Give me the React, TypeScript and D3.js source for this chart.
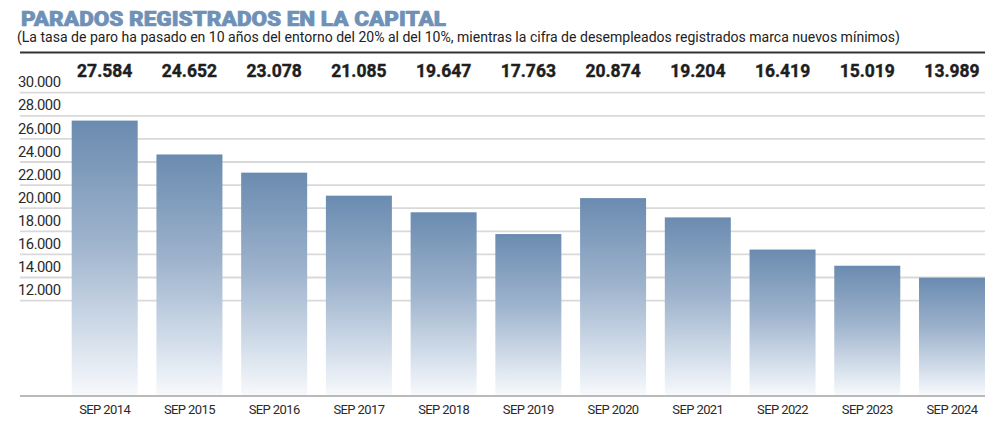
import React from "react";
import * as d3 from "d3";

const categories = ["SEP 2014","SEP 2015","SEP 2016","SEP 2017","SEP 2018","SEP 2019","SEP 2020","SEP 2021","SEP 2022","SEP 2023","SEP 2024"];
const values = [27584, 24652, 23078, 21085, 19647, 17763, 20874, 19204, 16419, 15019, 13989];
const valueLabels = ["27.584","24.652","23.078","21.085","19.647","17.763","20.874","19.204","16.419","15.019","13.989"];
const yTicks = [30000, 28000, 26000, 24000, 22000, 20000, 18000, 16000, 14000, 12000];
const yTickLabels = ["30.000","28.000","26.000","24.000","22.000","20.000","18.000","16.000","14.000","12.000"];
const title = "PARADOS REGISTRADOS EN LA CAPITAL";
const subtitle = "(La tasa de paro ha pasado en 10 años del entorno del 20% al del 10%, mientras la cifra de desempleados registrados marca nuevos mínimos)";

export default function App() {
  const W = 1000, H = 434;
  const baseY = 396;
  const x = d3.scaleBand<string>().domain(categories).range([71.7, 985]).paddingInner(0.221).paddingOuter(0);
  const y = d3.scaleLinear().domain([12000, 30000]).range([300.6, 92.7]);
  const font = "Roboto, 'Noto Sans', sans-serif";
  return (
    <svg width={W} height={H} style={{ position: "absolute", left: 0, top: 0, background: "#fff" }}>
      <defs>
        <linearGradient id="barGrad" x1="0" y1="0" x2="0" y2="1">
          <stop offset="0" stopColor="#6a8bb0" />
          <stop offset="0.45" stopColor="#9fb4cd" />
          <stop offset="0.8" stopColor="#d6e0ec" />
          <stop offset="1" stopColor="#f7f9fc" />
        </linearGradient>
      </defs>
      <rect width={W} height={H} fill="#fff" />
      <text x={21} y={26} fontFamily={font} fontWeight={900} fontSize={20.5} fill="#6f91b7" stroke="#6f91b7" strokeWidth={0.7}
        textLength={425} lengthAdjust="spacingAndGlyphs">{title}</text>
      <text x={17} y={42} fontFamily={font} fontSize={14} fill="#222"
        textLength={883} lengthAdjust="spacingAndGlyphs">{subtitle}</text>
      <line x1={20} x2={985} y1={52.5} y2={52.5} stroke="#333" strokeWidth={2.2} />
      {yTicks.map((t, i) => (
        <g key={t}>
          <line x1={20} x2={985} y1={y(t)} y2={y(t)} stroke="#d9d9d9" strokeWidth={1.8} />
          <text x={18} y={y(t) - 5.4} fontFamily={font} fontSize={14.8} fill="#2a2a2a" letterSpacing={-0.5}>{yTickLabels[i]}</text>
        </g>
      ))}
      {categories.map((c, i) => (
        <rect key={c} x={x(c)} y={y(values[i])} width={x.bandwidth()} height={baseY - 1 - y(values[i])} fill="url(#barGrad)" />
      ))}
      <line x1={20} x2={985} y1={baseY} y2={baseY} stroke="#777" strokeWidth={1.2} />
      {categories.map((c, i) => (
        <g key={"l" + c}>
          <text x={(x(c) as number) + x.bandwidth() / 2} y={76.7} textAnchor="middle" fontFamily={font} fontWeight={700} fontSize={17.5} fill="#1e1e1e" stroke="#1e1e1e" strokeWidth={0.4}>{valueLabels[i]}</text>
          <text x={(x(c) as number) + x.bandwidth() / 2} y={414.3} textAnchor="middle" fontFamily={font} fontSize={13} fill="#2a2a2a" letterSpacing={-0.6}>{c}</text>
        </g>
      ))}
    </svg>
  );
}
